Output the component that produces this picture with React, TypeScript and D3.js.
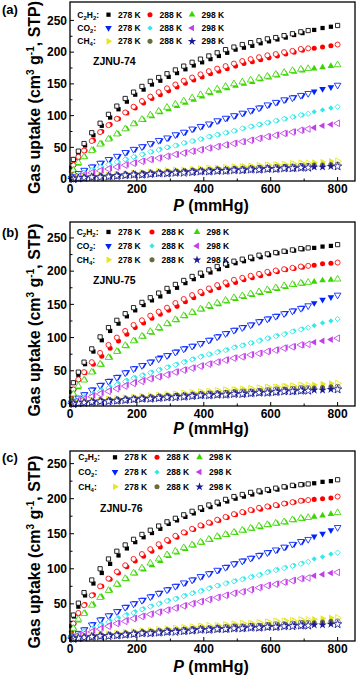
import React from "react";
import * as d3 from "d3";

// pressures (mmHg) of the adsorption (filled) and desorption (open) points
const adsP = [4, 12, 25, 45, 70, 95, 120, 145, 170, 195, 220, 245, 270, 295, 320, 345, 370, 395, 420, 445, 470, 495, 520, 545, 570, 595, 620, 645, 670, 695, 730, 755, 780];
const desP = [800, 712, 690, 665, 640, 615, 590, 565, 540, 515, 490, 465, 440, 415, 390, 365, 340, 315, 290, 265, 240, 215, 190, 165, 140, 115, 90, 65, 42, 25, 10];

const gasLabels = ["C2H2:", "CO2:", "CH4:"];
const tempLabels = ["278 K", "288 K", "298 K"];
const seriesColors = ["#000000", "#ff0000", "#3ad600", "#0022ff", "#33e8e8", "#c23ee8", "#e6e61a", "#6b6b3a", "#1a1a99"];
const seriesShapes = ["square", "circle", "triUp", "triDown", "diamond", "triLeft", "triRight", "circle", "star"];

const xTicks = [0, 200, 400, 600, 800];
const xMinorTicks = [100, 300, 500, 700];
const yTicks = [0, 50, 100, 150, 200, 250];
const yMinorTicks = [25, 75, 125, 175, 225];

// ZJNU-74, uptake in cm3/g, rows: C2H2 278/288/298, CO2 278/288/298, CH4 278/288/298
const ads74 = [
  [18, 31, 40, 53, 69, 84, 97, 110, 122, 133, 141, 149, 155, 161, 167, 173, 179, 184, 189, 194, 199, 204, 207, 210, 214, 217, 220, 223, 227, 230, 235, 238, 240],
  [12, 23, 33, 45, 61, 75, 86, 95, 104, 112, 120, 127, 133, 139, 145, 151, 156, 161, 166, 170, 174, 178, 182, 185, 188, 191, 194, 197, 200, 203, 206, 208, 210],
  [6, 14, 24, 35, 46, 56, 64, 71, 79, 87, 93, 99, 105, 110, 115, 120, 125, 130, 135, 139, 143, 147, 150, 153, 157, 160, 163, 166, 169, 171, 174, 176, 178],
  [2, 4, 8, 14, 20, 26, 31, 36, 42, 47, 52, 56, 61, 65, 70, 74, 79, 83, 87, 92, 96, 100, 104, 108, 113, 117, 121, 125, 129, 132, 138, 142, 145],
  [1, 3, 6, 10, 15, 19, 23, 27, 31, 35, 39, 43, 47, 50, 53, 57, 60, 63, 67, 70, 73, 76, 80, 83, 86, 89, 92, 95, 98, 101, 106, 109, 112],
  [1, 2, 4, 7, 11, 14, 17, 20, 23, 26, 29, 31, 34, 36, 39, 42, 44, 47, 49, 52, 54, 57, 59, 62, 65, 67, 70, 72, 75, 77, 81, 84, 86],
  [0, 1, 2, 3, 4, 5, 6, 7, 8, 9, 10, 11, 12, 13, 14, 14, 15, 16, 17, 17, 18, 19, 20, 20, 21, 22, 23, 23, 24, 25, 26, 27, 28],
  [0, 1, 1, 2, 3, 4, 5, 6, 7, 8, 9, 9, 10, 11, 12, 12, 13, 13, 14, 15, 15, 16, 16, 17, 18, 18, 19, 20, 20, 21, 22, 22, 23],
  [0, 0, 1, 2, 3, 4, 4, 5, 6, 7, 7, 8, 9, 9, 10, 11, 11, 12, 12, 13, 13, 14, 14, 15, 15, 16, 16, 17, 17, 18, 19, 19, 20],
];
const des74 = [
  [242, 234, 232, 229, 226, 223, 221, 218, 215, 212, 208, 204, 199, 194, 189, 184, 178, 172, 166, 160, 154, 146, 137, 127, 115, 102, 88, 73, 56, 44, 31],
  [212, 206, 205, 202, 200, 197, 195, 192, 189, 186, 182, 178, 174, 170, 165, 160, 155, 149, 143, 137, 130, 123, 114, 105, 95, 85, 74, 60, 45, 35, 22],
  [180, 174, 173, 171, 168, 165, 162, 159, 156, 153, 150, 146, 142, 138, 133, 128, 123, 118, 113, 107, 101, 94, 87, 79, 71, 63, 55, 45, 35, 26, 14],
  [148, 135, 132, 128, 125, 121, 117, 112, 108, 104, 100, 96, 92, 87, 83, 79, 74, 70, 65, 61, 56, 51, 47, 42, 36, 31, 25, 19, 14, 9, 4],
  [114, 103, 101, 98, 95, 92, 89, 86, 83, 80, 76, 73, 70, 67, 63, 60, 57, 53, 50, 46, 43, 39, 35, 31, 27, 23, 19, 14, 10, 6, 3],
  [88, 79, 77, 74, 72, 69, 67, 64, 61, 59, 56, 54, 51, 49, 46, 44, 41, 39, 36, 33, 31, 28, 25, 22, 19, 16, 13, 10, 7, 4, 2],
  [28, 25, 25, 24, 23, 22, 22, 21, 20, 19, 19, 18, 17, 17, 16, 15, 14, 14, 13, 12, 11, 10, 9, 8, 7, 6, 5, 4, 3, 2, 1],
  [23, 21, 21, 20, 19, 19, 18, 18, 17, 16, 16, 15, 15, 14, 13, 13, 12, 11, 11, 10, 9, 8, 8, 7, 6, 5, 4, 3, 2, 1, 1],
  [20, 18, 18, 17, 17, 16, 16, 15, 15, 14, 14, 13, 13, 12, 12, 11, 10, 10, 9, 9, 8, 7, 7, 6, 5, 4, 3, 3, 2, 1, 0],
];

// ZJNU-75
const ads75 = [
  [18, 32, 44, 60, 79, 96, 110, 121, 132, 141, 149, 156, 162, 169, 175, 182, 188, 193, 198, 203, 208, 212, 215, 218, 221, 224, 227, 229, 231, 233, 235, 237, 238],
  [10, 22, 36, 47, 60, 72, 84, 95, 105, 115, 122, 129, 135, 141, 147, 154, 160, 166, 171, 175, 179, 183, 187, 190, 193, 196, 199, 202, 204, 206, 209, 211, 212],
  [6, 15, 25, 36, 48, 59, 70, 79, 87, 95, 101, 107, 113, 120, 126, 132, 137, 142, 146, 150, 154, 158, 161, 164, 167, 170, 173, 176, 179, 181, 184, 186, 187],
  [2, 5, 9, 15, 22, 29, 35, 41, 48, 54, 59, 64, 70, 74, 79, 84, 88, 92, 97, 102, 107, 112, 116, 120, 125, 129, 133, 137, 141, 145, 152, 157, 161],
  [1, 3, 6, 11, 16, 21, 26, 31, 36, 40, 44, 48, 52, 56, 60, 64, 68, 72, 75, 79, 82, 86, 89, 92, 96, 99, 103, 106, 110, 113, 118, 122, 125],
  [1, 2, 5, 9, 13, 17, 21, 25, 29, 33, 36, 39, 42, 45, 49, 52, 55, 58, 61, 64, 67, 70, 72, 75, 77, 80, 82, 85, 87, 89, 93, 95, 97],
  [0, 1, 2, 3, 4, 6, 7, 8, 9, 10, 11, 12, 13, 14, 15, 16, 17, 18, 19, 20, 21, 22, 22, 23, 24, 25, 26, 27, 27, 28, 29, 30, 31],
  [0, 1, 1, 2, 4, 5, 6, 6, 7, 8, 9, 10, 11, 12, 13, 13, 14, 15, 16, 16, 17, 18, 19, 19, 20, 21, 22, 22, 23, 24, 24, 25, 26],
  [0, 0, 1, 2, 3, 4, 5, 5, 6, 7, 8, 8, 9, 10, 11, 11, 12, 13, 13, 14, 14, 15, 15, 16, 17, 17, 18, 19, 19, 20, 21, 21, 22],
];
const des75 = [
  [240, 235, 234, 232, 230, 228, 226, 224, 221, 218, 215, 211, 207, 202, 197, 192, 186, 180, 174, 167, 160, 153, 145, 136, 126, 115, 101, 83, 63, 48, 32],
  [213, 208, 207, 205, 203, 201, 199, 196, 193, 190, 187, 183, 179, 174, 169, 164, 158, 152, 145, 139, 133, 126, 119, 110, 100, 89, 77, 63, 48, 37, 22],
  [188, 183, 182, 180, 178, 175, 172, 169, 166, 163, 160, 156, 152, 148, 143, 138, 133, 127, 121, 115, 109, 102, 95, 88, 79, 70, 60, 48, 36, 27, 15],
  [164, 148, 144, 140, 136, 132, 128, 124, 119, 115, 111, 106, 101, 96, 91, 87, 83, 78, 73, 68, 63, 58, 53, 47, 40, 34, 28, 21, 14, 9, 4],
  [128, 115, 112, 109, 105, 102, 99, 95, 92, 88, 85, 81, 78, 75, 71, 67, 63, 59, 55, 51, 47, 43, 39, 34, 29, 24, 19, 14, 10, 6, 2],
  [99, 90, 89, 86, 84, 81, 79, 76, 74, 71, 69, 66, 63, 60, 57, 54, 51, 48, 44, 41, 38, 34, 31, 27, 23, 19, 15, 11, 7, 5, 2],
  [31, 28, 28, 27, 26, 25, 25, 24, 23, 22, 21, 21, 20, 19, 18, 17, 16, 15, 14, 13, 12, 11, 10, 9, 8, 7, 5, 4, 3, 2, 1],
  [26, 24, 24, 23, 22, 22, 21, 20, 19, 19, 18, 17, 16, 16, 15, 14, 13, 12, 12, 11, 10, 9, 8, 7, 6, 5, 4, 3, 2, 1, 1],
  [22, 20, 20, 19, 19, 18, 17, 17, 16, 15, 15, 14, 14, 13, 13, 12, 11, 10, 10, 9, 8, 8, 7, 6, 5, 4, 4, 3, 2, 1, 0],
];

// ZJNU-76
const ads76 = [
  [18, 32, 46, 62, 79, 94, 107, 119, 129, 138, 145, 151, 157, 164, 169, 174, 179, 184, 188, 192, 196, 200, 203, 206, 209, 211, 213, 216, 218, 220, 222, 224, 225],
  [10, 22, 36, 49, 63, 75, 85, 94, 103, 111, 118, 125, 131, 139, 145, 151, 156, 161, 165, 169, 173, 177, 180, 183, 185, 188, 190, 193, 195, 197, 199, 200, 201],
  [6, 15, 26, 37, 49, 60, 69, 77, 85, 93, 99, 105, 111, 118, 123, 128, 133, 137, 141, 145, 148, 151, 154, 157, 159, 162, 164, 166, 169, 171, 174, 176, 178],
  [2, 4, 8, 14, 21, 28, 34, 40, 46, 51, 56, 61, 66, 71, 76, 80, 85, 89, 94, 98, 103, 108, 112, 116, 120, 124, 127, 131, 135, 139, 146, 150, 155],
  [1, 3, 6, 11, 16, 21, 26, 30, 35, 39, 43, 47, 51, 55, 58, 62, 66, 69, 73, 76, 80, 83, 86, 89, 92, 96, 99, 102, 105, 108, 114, 117, 121],
  [1, 2, 5, 8, 12, 16, 20, 23, 27, 30, 33, 36, 39, 42, 45, 48, 51, 54, 57, 60, 63, 66, 68, 71, 74, 77, 79, 81, 84, 86, 90, 92, 94],
  [0, 1, 2, 3, 4, 6, 7, 8, 9, 10, 11, 12, 13, 14, 15, 16, 17, 18, 18, 19, 20, 21, 22, 22, 23, 24, 25, 26, 26, 27, 28, 29, 30],
  [0, 1, 1, 2, 4, 5, 6, 6, 7, 8, 9, 10, 11, 12, 12, 13, 14, 15, 15, 16, 17, 18, 18, 19, 19, 20, 21, 21, 22, 23, 23, 24, 25],
  [0, 0, 1, 2, 3, 4, 5, 5, 6, 7, 8, 8, 9, 10, 11, 11, 12, 13, 13, 14, 14, 15, 15, 16, 16, 17, 17, 18, 19, 19, 20, 20, 21],
];
const des76 = [
  [227, 221, 220, 219, 217, 215, 213, 211, 209, 206, 203, 199, 195, 191, 187, 182, 177, 172, 167, 161, 155, 149, 142, 134, 125, 114, 100, 84, 66, 51, 34],
  [203, 198, 197, 195, 193, 191, 189, 187, 184, 181, 178, 174, 170, 166, 162, 157, 152, 147, 141, 135, 128, 121, 114, 105, 96, 86, 75, 62, 48, 37, 22],
  [180, 173, 172, 170, 167, 165, 163, 161, 158, 155, 152, 149, 146, 142, 138, 134, 130, 125, 120, 114, 108, 101, 94, 86, 78, 69, 59, 48, 36, 28, 15],
  [159, 142, 139, 135, 131, 127, 123, 119, 115, 111, 107, 102, 98, 93, 89, 84, 80, 75, 70, 65, 60, 55, 50, 45, 39, 33, 27, 20, 13, 8, 4],
  [123, 110, 107, 104, 101, 98, 95, 91, 88, 85, 82, 79, 76, 72, 68, 65, 61, 57, 54, 50, 46, 42, 37, 33, 28, 24, 19, 14, 10, 6, 2],
  [95, 87, 86, 83, 81, 78, 76, 73, 70, 67, 65, 62, 59, 56, 53, 50, 47, 44, 41, 38, 35, 32, 29, 25, 22, 18, 14, 10, 7, 5, 2],
  [30, 27, 27, 26, 25, 25, 24, 23, 22, 22, 21, 20, 19, 19, 18, 17, 16, 15, 14, 13, 12, 11, 10, 9, 8, 7, 5, 4, 3, 2, 1],
  [25, 23, 23, 22, 21, 21, 20, 19, 19, 18, 18, 17, 16, 15, 15, 14, 13, 12, 12, 11, 10, 9, 8, 7, 6, 5, 4, 3, 2, 1, 1],
  [21, 19, 19, 18, 18, 17, 17, 16, 16, 15, 15, 14, 14, 13, 13, 12, 11, 10, 10, 9, 8, 8, 7, 6, 5, 4, 4, 3, 2, 1, 0],
];

const FONT = "Arial, 'Liberation Sans', Helvetica, sans-serif";
const X_LEFT = 70;
const X_RIGHT = 355;
const X_MAX = 852;
const Y_MIN = -3;

const panels = [
  { tag: "(a)", name: "ZJNU-74", ads: ads74, des: des74, top: 2, bottom: 181, yMax: 279, tagY: 14, xTitleY: 211, legX: [108.5, 150, 192], labX: 77.3, nameX: 93 },
  { tag: "(b)", name: "ZJNU-75", ads: ads75, des: des75, top: 222, bottom: 406, yMax: 274, tagY: 237, xTitleY: 434, legX: [108.5, 152, 197], labX: 76.7, nameX: 93 },
  { tag: "(c)", name: "ZJNU-76", ads: ads76, des: des76, top: 451, bottom: 641, yMax: 268, tagY: 462, xTitleY: 672, legX: [115, 157, 199.5], labX: 78.3, nameX: 100 },
];

const symbolDefs: Record<string, { type: any; size: number; rot: number }> = {
  square: { type: d3.symbolSquare, size: 18, rot: 0 },
  circle: { type: d3.symbolCircle, size: 20, rot: 0 },
  triUp: { type: d3.symbolTriangle, size: 19, rot: 0 },
  triDown: { type: d3.symbolTriangle, size: 19, rot: 180 },
  diamond: { type: d3.symbolSquare, size: 14, rot: 45 },
  triLeft: { type: d3.symbolTriangle, size: 19, rot: -90 },
  triRight: { type: d3.symbolTriangle, size: 19, rot: 90 },
  star: { type: d3.symbolStar, size: 22, rot: 0 },
};

function Marker({ shape, x, y, color, open }: any) {
  const def = symbolDefs[shape];
  const d = d3.symbol(def.type, def.size)() as string;
  return (
    <path
      d={d}
      transform={`translate(${x},${y}) rotate(${def.rot})`}
      fill={open ? "#ffffff" : color}
      stroke={open ? color : "none"}
      strokeWidth={open ? 0.85 : 0}
    />
  );
}

function Formula({ text, x, y }: any) {
  const parts = text.match(/\d+|\D+/g) || [];
  return (
    <text x={x} y={y} fontSize={8.5} fontWeight="bold" fontFamily={FONT}>
      {parts.map((p: string, i: number) =>
        /\d/.test(p) ? (
          <tspan key={i} fontSize={6} dy={2}>{p}</tspan>
        ) : (
          <tspan key={i} dy={i > 0 ? -2 : 0}>{p}</tspan>
        )
      )}
    </text>
  );
}

function Panel({ p }: any) {
  const x = d3.scaleLinear().domain([0, X_MAX]).range([X_LEFT, X_RIGHT]);
  const y = d3.scaleLinear().domain([Y_MIN, p.yMax]).range([p.bottom, p.top]);
  const midY = (p.top + p.bottom) / 2 + 6;
  const legRows = [259, 238, 217];

  return (
    <g>
      {/* data */}
      {seriesShapes.map((shape, s) => (
        <g key={s}>
          {p.ads[s].map((v: number, i: number) => (
            <Marker key={"a" + i} shape={shape} x={x(adsP[i])} y={y(v)} color={seriesColors[s]} open={false} />
          ))}
          {p.des[s].map((v: number, i: number) => (
            <Marker key={"d" + i} shape={shape} x={x(desP[i])} y={y(v)} color={seriesColors[s]} open={true} />
          ))}
        </g>
      ))}

      {/* frame */}
      <rect x={X_LEFT} y={p.top} width={X_RIGHT - X_LEFT} height={p.bottom - p.top} fill="none" stroke="#000" strokeWidth={1.3} />

      {/* ticks */}
      {xTicks.map((t) => (
        <line key={"xt" + t} x1={x(t)} x2={x(t)} y1={p.bottom} y2={p.bottom - 4} stroke="#000" strokeWidth={1} />
      ))}
      {xMinorTicks.map((t) => (
        <line key={"xm" + t} x1={x(t)} x2={x(t)} y1={p.bottom} y2={p.bottom - 2.5} stroke="#000" strokeWidth={1} />
      ))}
      {yTicks.map((t) => (
        <line key={"yt" + t} x1={X_LEFT} x2={X_LEFT + 4} y1={y(t)} y2={y(t)} stroke="#000" strokeWidth={1} />
      ))}
      {yMinorTicks.map((t) => (
        <line key={"ym" + t} x1={X_LEFT} x2={X_LEFT + 2.5} y1={y(t)} y2={y(t)} stroke="#000" strokeWidth={1} />
      ))}

      {/* tick labels */}
      {xTicks.map((t) => (
        <text key={"xl" + t} x={x(t)} y={p.bottom + 11.5} textAnchor="middle" fontSize={12} fontWeight="bold" fontFamily={FONT}>
          {t}
        </text>
      ))}
      {yTicks.map((t) => (
        <text key={"yl" + t} x={67} y={y(t)} dy="0.36em" textAnchor="end" fontSize={12} fontWeight="bold" fontFamily={FONT}>
          {t}
        </text>
      ))}

      {/* axis titles */}
      <text x={211} y={p.xTitleY} textAnchor="middle" fontSize={16} fontWeight="bold" fontFamily={FONT}>
        <tspan fontStyle="italic">P</tspan> (mmHg)
      </text>
      <text transform={`translate(40,${midY}) rotate(-90)`} textAnchor="middle" fontSize={16} fontWeight="bold" fontFamily={FONT}>
        Gas uptake (cm
        <tspan fontSize={10} dy={-6}>3</tspan>
        <tspan dy={6}> g</tspan>
        <tspan fontSize={10} dy={-6}>-1</tspan>
        <tspan dy={6}>, STP)</tspan>
      </text>

      {/* panel tag */}
      <text x={2} y={p.tagY} fontSize={13} fontWeight="bold" fontFamily={FONT}>
        {p.tag}
      </text>

      {/* legend */}
      {gasLabels.map((g, r) => (
        <g key={"lg" + r}>
          <Formula text={g} x={p.labX} y={y(legRows[r]) + 3} />
          {tempLabels.map((t, c) => {
            const s = r * 3 + c;
            return (
              <g key={c}>
                <Marker shape={seriesShapes[s]} x={p.legX[c]} y={y(legRows[r])} color={seriesColors[s]} open={false} />
                <text x={p.legX[c] + 9.5} y={y(legRows[r]) + 3} fontSize={8.5} fontWeight="bold" fontFamily={FONT}>
                  {t}
                </text>
              </g>
            );
          })}
        </g>
      ))}
      <text x={p.nameX} y={y(186) + 3.8} fontSize={10.5} fontWeight="bold" fontFamily={FONT}>
        {p.name}
      </text>
    </g>
  );
}

export default function App() {
  return (
    <div style={{ position: "absolute", left: 0, top: 0 }}>
      <svg width={358} height={679} viewBox="0 0 358 679" style={{ display: "block", background: "#fff" }}>
        {panels.map((p) => (
          <Panel key={p.tag} p={p} />
        ))}
      </svg>
    </div>
  );
}
